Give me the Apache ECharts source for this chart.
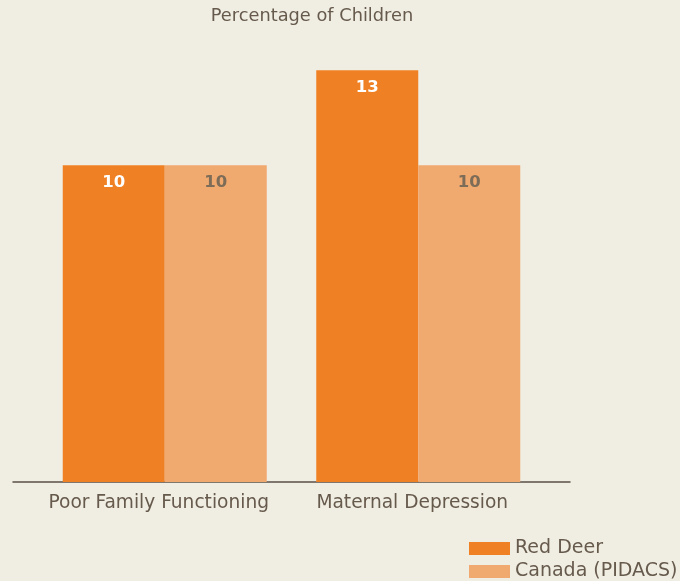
<!DOCTYPE html>
<html><head><meta charset="utf-8">
<script src="https://cdn.jsdelivr.net/npm/echarts@6/dist/echarts.min.js"></script>
<style>html,body{margin:0;padding:0;background:#f0ede2;}#c{width:680px;height:581px;}</style>
</head><body><div id="c"></div>
<script>
var categories = ['Poor Family Functioning', 'Maternal Depression'];
var redDeer = [10, 13];
var canada = [10, 10];
var seriesNames = ['Red Deer', 'Canada (PIDACS)'];
var titleText = 'Percentage of Children';

var FONT = 'DejaVu Sans';
var TXT = '#665a4c';
var legendText = { fontFamily: FONT, fontSize: 19, color: TXT };
var chart = echarts.init(document.getElementById('c'));
chart.setOption({
  backgroundColor: '#f0ede2',
  animation: false,
  title: { text: titleText, left: 307, top: 2, textAlign: 'center',
    textStyle: { fontFamily: FONT, fontSize: 17.8, fontWeight: 'normal', color: TXT } },
  legend: [
    { orient: 'vertical', left: 469, top: 539, itemWidth: 41, itemHeight: 13, padding: 0,
      icon: 'rect', textStyle: legendText, data: [seriesNames[0]] },
    { orient: 'vertical', left: 469, top: 562, itemWidth: 41, itemHeight: 13, padding: 0,
      icon: 'rect', textStyle: legendText, data: [seriesNames[1]] }
  ],
  grid: [
    { left: 38, right: 135, top: 7, bottom: 99 },
    { left: 13, right: 110, top: 7, bottom: 99 }
  ],
  xAxis: [
    { type: 'category', data: categories, gridIndex: 0,
      axisLine: { show: false }, axisTick: { show: false },
      axisLabel: { interval: 0, fontFamily: FONT, fontSize: 18.6, color: TXT, margin: 12, padding: [0, 12, 0, 0] } },
    { type: 'value', gridIndex: 1, min: 0, max: 1,
      axisLine: { show: true, onZero: false, lineStyle: { color: '#5a5048', width: 1.5 } },
      axisTick: { show: false }, axisLabel: { show: false }, splitLine: { show: false } }
  ],
  yAxis: [
    { type: 'value', gridIndex: 0, min: 0, max: 15, show: false, splitLine: { show: false } },
    { type: 'value', gridIndex: 1, min: 0, max: 1, show: false, splitLine: { show: false } }
  ],
  series: [
    { name: seriesNames[0], type: 'bar', data: redDeer, barWidth: 102, barGap: '0%',
      itemStyle: { color: '#f08024' },
      label: { show: true, position: 'insideTop', distance: 9, fontFamily: FONT, fontSize: 16.5, fontWeight: 'bold', color: '#ffffff' } },
    { name: seriesNames[1], type: 'bar', data: canada, barWidth: 102, barGap: '0%',
      itemStyle: { color: '#f0a96f' },
      label: { show: true, position: 'insideTop', distance: 9, fontFamily: FONT, fontSize: 16.5, fontWeight: 'bold', color: '#7d6c57' } }
  ]
});
</script></body></html>
